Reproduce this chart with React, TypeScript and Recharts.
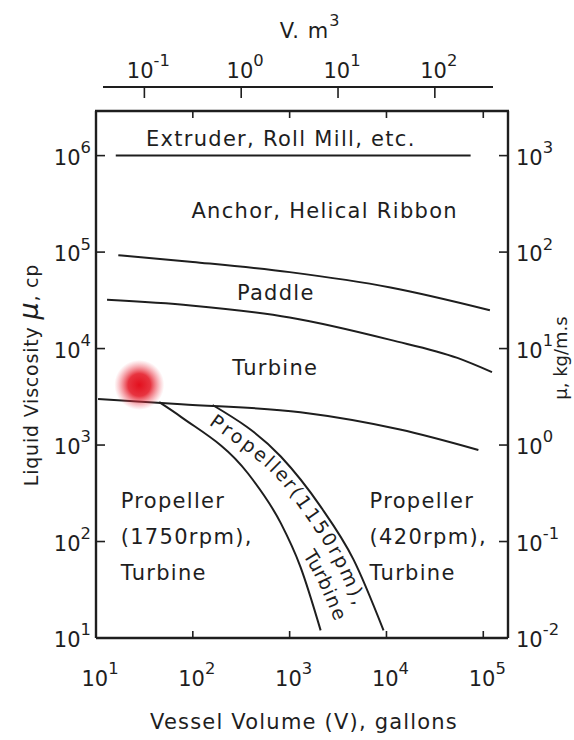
import React from 'react';
import { ComposedChart, Line, Scatter, XAxis, YAxis } from 'recharts';

const FONT = '"DejaVu Sans", "Noto Sans", sans-serif';
const INK = '#1e1e1e';

const WIDTH = 574;
const HEIGHT = 740;
const LEFT_W = 96;
const RIGHT_W = 66;
const TOP_H = 111;
const BOTTOM_H = 102;
const PLOT_TOP = TOP_H;

// the top scale in the figure sits at about 10^2.5 gallons per m^3
const GAL_PER_M3 = 316;
const CP_PER_SI = 1000;

// vessel volume, gallons
const volumeDomain = [10, 180000];
const volumeTicks = [10, 100, 1000, 10000, 100000];
// vessel volume, m^3
const cubicTicks = [0.1, 1, 10, 100];
// viscosity, cp
const viscosityDomain = [10, 2.9e6];
const viscosityTicks = [10, 100, 1e3, 1e4, 1e5, 1e6];
// viscosity, kg/m.s
const siTicks = [0.01, 0.1, 1, 10, 100, 1000];

// boundaries between agitator types (v in gallons, mu in cp)
const extruderLine = [
  { v: 16, mu: 1e6 },
  { v: 74000, mu: 1e6 },
];
const anchorLine = [
  { v: 17, mu: 93000 },
  { v: 100, mu: 79000 },
  { v: 1000, mu: 62000 },
  { v: 11000, mu: 43000 },
  { v: 117000, mu: 25000 },
];
const paddleLine = [
  { v: 13, mu: 32000 },
  { v: 95, mu: 28000 },
  { v: 1000, mu: 21000 },
  { v: 11000, mu: 12300 },
  { v: 54000, mu: 8000 },
  { v: 123000, mu: 5700 },
];
const turbineLine = [
  { v: 10.5, mu: 3000 },
  { v: 76, mu: 2650 },
  { v: 1290, mu: 2190 },
  { v: 13800, mu: 1450 },
  { v: 89000, mu: 890 },
];
const propeller1750Line = [
  { v: 45, mu: 2780 },
  { v: 76, mu: 1950 },
  { v: 370, mu: 510 },
  { v: 810, mu: 155 },
  { v: 1290, mu: 55 },
  { v: 2090, mu: 12 },
];
const propeller1150Line = [
  { v: 160, mu: 2600 },
  { v: 810, mu: 760 },
  { v: 2090, mu: 230 },
  { v: 4570, mu: 65 },
  { v: 9330, mu: 12 },
];
const highlight = [{ v: 28, mu: 4200 }];

const regionLabels = [
  { v: 810, mu: 1.26e6, lines: ['Extruder, Roll Mill, etc.'], anchor: 'middle' },
  { v: 2300, mu: 2.28e5, lines: ['Anchor, Helical Ribbon'], anchor: 'middle' },
  { v: 720, mu: 32000, lines: ['Paddle'], anchor: 'middle' },
  { v: 710, mu: 5350, lines: ['Turbine'], anchor: 'middle' },
  { v: 18, mu: 224, lines: ['Propeller', '(1750rpm),', 'Turbine'], anchor: 'start' },
  { v: 6700, mu: 224, lines: ['Propeller', '(420rpm),', 'Turbine'], anchor: 'start' },
];

// the m^3 scale shares the gallon positions
const cubicGuide = extruderLine.map((p) => ({ m3: p.v / GAL_PER_M3, mu: p.mu }));

const Power = ({ x, y, exp, anchor, size }: any) => (
  <text x={x} y={y} textAnchor={anchor} fontFamily={FONT} fontSize={size} fill={INK}>
    10
    <tspan dy={-size * 0.55} fontSize={size * 0.78}>
      {exp}
    </tspan>
  </text>
);

const log10 = (v: number) => Math.round(Math.log10(v));

const VolumeTick = ({ x, y, payload, index }: any) => (
  <g>
    {index > 0 && <line x1={x} x2={x} y1={y} y2={y - 7} stroke={INK} strokeWidth={1.6} />}
    {index > 0 && <line x1={x} x2={x} y1={PLOT_TOP} y2={PLOT_TOP + 7} stroke={INK} strokeWidth={1.6} />}
    <Power x={x + 4} y={y + 48} exp={log10(payload.value)} anchor="middle" size={21} />
  </g>
);

const CubicTick = ({ x, y, payload }: any) => (
  <g>
    <line x1={x} x2={x} y1={y - 24} y2={y - 13} stroke={INK} strokeWidth={1.6} />
    <Power x={x + 4} y={y - 33} exp={log10(payload.value)} anchor="middle" size={21} />
  </g>
);

const CpTick = ({ x, y, payload, index }: any) => (
  <g>
    {index > 0 && <line x1={x} x2={x + 9} y1={y} y2={y} stroke={INK} strokeWidth={1.6} />}
    <Power x={x - 5} y={y + 9} exp={log10(payload.value)} anchor="end" size={21} />
  </g>
);

const SiTick = ({ x, y, payload, index }: any) => (
  <g>
    {index > 0 && <line x1={x - 9} x2={x} y1={y} y2={y} stroke={INK} strokeWidth={1.6} />}
    <Power x={x + 8} y={y + 9} exp={log10(payload.value)} anchor="start" size={21} />
  </g>
);

const RegionLabel = ({ cx, cy, payload }: any) => (
  <text x={cx} y={cy} textAnchor={payload.anchor} fontFamily={FONT} fontSize={21} fill={INK} letterSpacing={1.3}>
    {payload.lines.map((line: string, i: number) => (
      <tspan key={line} x={cx} dy={i === 0 ? 0 : 36}>
        {line}
      </tspan>
    ))}
  </text>
);

const Blob = ({ cx, cy }: any) => (
  <g>
    <defs>
      <radialGradient id="blobFill">
        <stop offset="0%" stopColor="#e3101e" stopOpacity={1} />
        <stop offset="45%" stopColor="#e3101e" stopOpacity={0.85} />
        <stop offset="100%" stopColor="#f05060" stopOpacity={0} />
      </radialGradient>
    </defs>
    <circle cx={cx} cy={cy} r={25} fill="url(#blobFill)" />
  </g>
);

const smoothPath = (pts: any[]) => {
  let d = `M${pts[0].x},${pts[0].y}`;
  for (let i = 0; i < pts.length - 1; i++) {
    const p0 = pts[i - 1] || pts[i];
    const p1 = pts[i];
    const p2 = pts[i + 1];
    const p3 = pts[i + 2] || p2;
    const c1x = p1.x + (p2.x - p0.x) / 6;
    const c1y = p1.y + (p2.y - p0.y) / 6;
    const c2x = p2.x - (p3.x - p1.x) / 6;
    const c2y = p2.y - (p3.y - p1.y) / 6;
    d += ` C${c1x},${c1y} ${c2x},${c2y} ${p2.x},${p2.y}`;
  }
  return d;
};

// text that runs down the band between the two propeller curves
const BandText = (props: any) => {
  const { index, points } = props;
  if (index !== 0 || !points) return <g key={`band-${index}`} />;
  return (
    <g key="band-text">
      <path id="band1150" d={smoothPath(points)} fill="none" stroke="none" />
      <text fontFamily={FONT} fontSize={19} fill={INK} letterSpacing={3.1}>
        <textPath href="#band1150" startOffset={8}>
          <tspan dy={18}>Propeller(1150rpm),</tspan>
        </textPath>
      </text>
      <text fontFamily={FONT} fontSize={19} fill={INK} letterSpacing={1.8}>
        <textPath href="#band1150" startOffset={182}>
          <tspan dy={42}>Turbine</tspan>
        </textPath>
      </text>
    </g>
  );
};

const curve = { type: 'monotone' as const, stroke: INK, strokeWidth: 2, dot: false, activeDot: false, isAnimationActive: false, xAxisId: 'gal', yAxisId: 'cp', dataKey: 'mu' };

export default function App() {
  return (
    <div style={{ position: 'absolute', left: 0, top: 0, background: '#fff' }}>
      <ComposedChart width={WIDTH} height={HEIGHT} margin={{ top: 0, right: 0, bottom: 0, left: 0 }}>
        <XAxis
          xAxisId="gal"
          dataKey="v"
          type="number"
          scale="log"
          domain={volumeDomain}
          ticks={volumeTicks}
          allowDataOverflow
          height={BOTTOM_H}
          stroke={INK}
          strokeWidth={2.4}
          tickLine={false}
          tickSize={0}
          tickMargin={0}
          tick={<VolumeTick />}
        />
        <XAxis
          xAxisId="m3"
          dataKey="m3"
          orientation="top"
          type="number"
          scale="log"
          domain={[volumeDomain[0] / GAL_PER_M3, volumeDomain[1] / GAL_PER_M3]}
          ticks={cubicTicks}
          allowDataOverflow
          height={TOP_H}
          axisLine={false}
          tickLine={false}
          tickSize={0}
          tickMargin={0}
          tick={<CubicTick />}
        />
        <YAxis
          yAxisId="cp"
          type="number"
          scale="log"
          domain={viscosityDomain}
          ticks={viscosityTicks}
          allowDataOverflow
          width={LEFT_W}
          stroke={INK}
          strokeWidth={2.4}
          tickLine={false}
          tickSize={0}
          tickMargin={0}
          tick={<CpTick />}
        />
        <YAxis
          yAxisId="si"
          orientation="right"
          type="number"
          scale="log"
          domain={[viscosityDomain[0] / CP_PER_SI, viscosityDomain[1] / CP_PER_SI]}
          ticks={siTicks}
          allowDataOverflow
          width={RIGHT_W}
          stroke={INK}
          strokeWidth={2.4}
          tickLine={false}
          tickSize={0}
          tickMargin={0}
          tick={<SiTick />}
        />

        <Scatter data={highlight} xAxisId="gal" yAxisId="cp" dataKey="mu" shape={<Blob />} isAnimationActive={false} />

        <Line {...curve} data={cubicGuide} xAxisId="m3" stroke="none" />
        <Line {...curve} data={extruderLine} type="linear" />
        <Line {...curve} data={anchorLine} />
        <Line {...curve} data={paddleLine} />
        <Line {...curve} data={turbineLine} />
        <Line {...curve} data={propeller1750Line} />
        <Line {...curve} data={propeller1150Line} dot={<BandText />} />

        <Scatter data={regionLabels} xAxisId="gal" yAxisId="cp" dataKey="mu" shape={<RegionLabel />} isAnimationActive={false} />

        {/* top edge of the frame, outer m^3 scale line and axis titles */}
        <line x1={LEFT_W - 1} x2={WIDTH - RIGHT_W + 1} y1={PLOT_TOP} y2={PLOT_TOP} stroke={INK} strokeWidth={2.6} />
        <line x1={103} x2={493} y1={87} y2={87} stroke={INK} strokeWidth={2} />
        <text x={310} y={38} textAnchor="middle" fontFamily={FONT} fontSize={21} fill={INK} letterSpacing={1}>
          V. m<tspan dy={-12} fontSize={16}>3</tspan>
        </text>
        <text x={304} y={729} textAnchor="middle" fontFamily={FONT} fontSize={21} fill={INK} letterSpacing={1.2}>
          Vessel Volume (V), gallons
        </text>
        <text
          transform="translate(38,375) rotate(-90)"
          textAnchor="middle"
          fontFamily={FONT}
          fontSize={19}
          fill={INK}
          letterSpacing={0.8}
        >
          Liquid Viscosity <tspan fontSize={27} fontStyle="italic">μ</tspan>, cp
        </text>
        <text
          transform="translate(567,358) rotate(-90)"
          textAnchor="middle"
          fontFamily={FONT}
          fontSize={18}
          fill={INK}
        >
          μ, kg/m.s
        </text>
      </ComposedChart>
    </div>
  );
}
